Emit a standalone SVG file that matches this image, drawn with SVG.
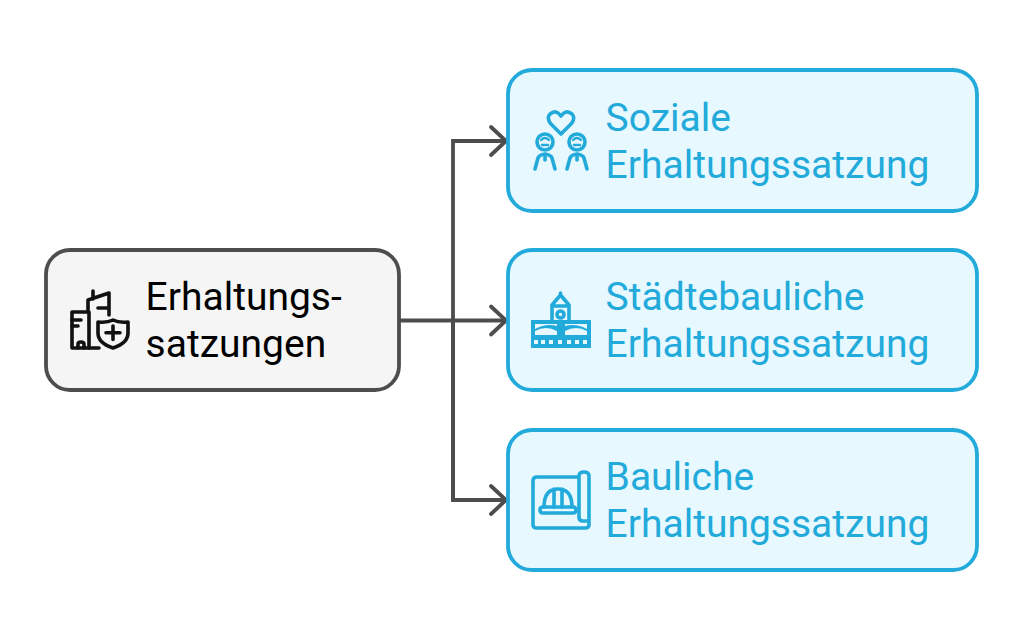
<svg xmlns="http://www.w3.org/2000/svg" width="1024" height="621" viewBox="0 0 1024 621">
<style>
.box{stroke-width:3.800}
.g{fill:#f5f5f5;stroke:#4d4d4d}
.b{fill:#e7f8ff;stroke:#22aadb}
.t{font-family:Roboto,"Liberation Sans",sans-serif;font-size:39px}
.tb{fill:#22aadb}
.tk{fill:#000}
.ib{fill:none;stroke:#22aadb;stroke-width:3.600;stroke-linecap:round;stroke-linejoin:round}
.ik{fill:none;stroke:#111;stroke-width:3.600;stroke-linecap:round;stroke-linejoin:round}
.c{fill:none;stroke:#4d4d4d;stroke-width:3.800}
.ah{fill:none;stroke:#4d4d4d;stroke-width:3.800;stroke-linecap:round;stroke-linejoin:miter}
</style>
<rect width="1024" height="621" fill="#fff"/>
<g id="connectors">
<path class="c" d="M399 320.500H505"/>
<path class="c" d="M453 500V141H505"/>
<path class="c" d="M453 320V500H505"/>
<path class="ah" d="M491 127L506 141L491 155"/>
<path class="ah" d="M491 306.500L506 320.500L491 334.500"/>
<path class="ah" d="M491 486L506 500L491 514"/>
</g>
<g id="node-root">
<rect class="box g" x="46" y="250" width="353" height="140" rx="24"/>
<g class="ik">
<path d="M89 348H72V312H89V348"/>
<path d="M72 320H81M72 326H78M78 348V344Q78 342 81 342Q84 342 84 344V348"/>
<path d="M89 348H99"/>
<path d="M88 311V300L109 293V315M93 299V291M98 308H109"/>
<path d="M113 320Q119 323 128 322V333Q128 343 113 348Q98 343 98 333V322Q107 323 113 320Z"/>
<path d="M113 326V339.500M106 332.700H120"/>
</g>
<text class="t tk" x="145.600" y="309.700">Erhaltungs-</text>
<text class="t tk" x="145.600" y="356.700">satzungen</text>
</g>
<g id="node-soziale">
<rect class="box b" x="508" y="70" width="469" height="141" rx="24"/>
<g class="ib">
<path d="M561 134L551 124Q546 118 550 114Q556 109 561 116Q566 109 572 114Q576 118 571 124Z"/>
<circle cx="545" cy="142" r="8"/>
<circle cx="577" cy="142" r="8"/>
<path d="M541 140Q545 136 549 140M573 140Q577 136 581 140M542 145H548M574 145H580" stroke-width="2.400"/>
<path d="M535 169L538 158Q539 155 545 154Q551 155 552 158L555 169M545 157V160"/>
<path d="M567 169L570 158Q571 155 577 154Q583 155 584 158L587 169M577 157V160"/>
</g>
<text class="t tb" x="605.600" y="130.700">Soziale</text>
<text class="t tb" x="605.600" y="177.700">Erhaltungssatzung</text>
</g>
<g id="node-staedtebaulich">
<rect class="box b" x="508" y="250" width="469" height="140" rx="24"/>
<path fill="#22aadb" d="M531 320H591V348H531Z"/>
<path fill="#e7f8ff" d="M535 331Q546 325 557 331V335H535ZM565 331Q576 325 587 331V335H565ZM535 324H557V326Q546 323 535 329ZM565 324H587V329Q576 323 565 326Z"/>
<path fill="#e7f8ff" d="M534 340h4v4h-4zM541 340h4v4h-4zM549 340h4v4h-4zM558 340h4v4h-4zM567 340h4v4h-4zM575 340h4v4h-4zM583 340h4v4h-4z"/>
<g class="ib">
<path d="M552 321V305L560.500 295L569 305V321M552 306H569M560.500 295V293"/>
<circle cx="560.500" cy="314.500" r="3.500"/>
</g>
<text class="t tb" x="605.600" y="309.700">Städtebauliche</text>
<text class="t tb" x="605.600" y="356.700">Erhaltungssatzung</text>
</g>
<g id="node-bauliche">
<rect class="box b" x="508" y="430" width="469" height="140" rx="24"/>
<g class="ib">
<path d="M579 477H537Q533 477 533 481V525Q533 528 537 528H585Q589 528 589 525V521H583Q579 521 579 517V476Q579 472 584 472Q589 472 589 476V521"/>
<path d="M543 513H573Q576 513 576 510Q576 507 573 507H543Q540 507 540 510Q540 513 543 513Z"/>
<path d="M544 507Q544 489 558 489Q572 489 572 507M554 507V489M562 507V489"/>
</g>
<text class="t tb" x="605.600" y="489.700">Bauliche</text>
<text class="t tb" x="605.600" y="536.700">Erhaltungssatzung</text>
</g>
</svg>
